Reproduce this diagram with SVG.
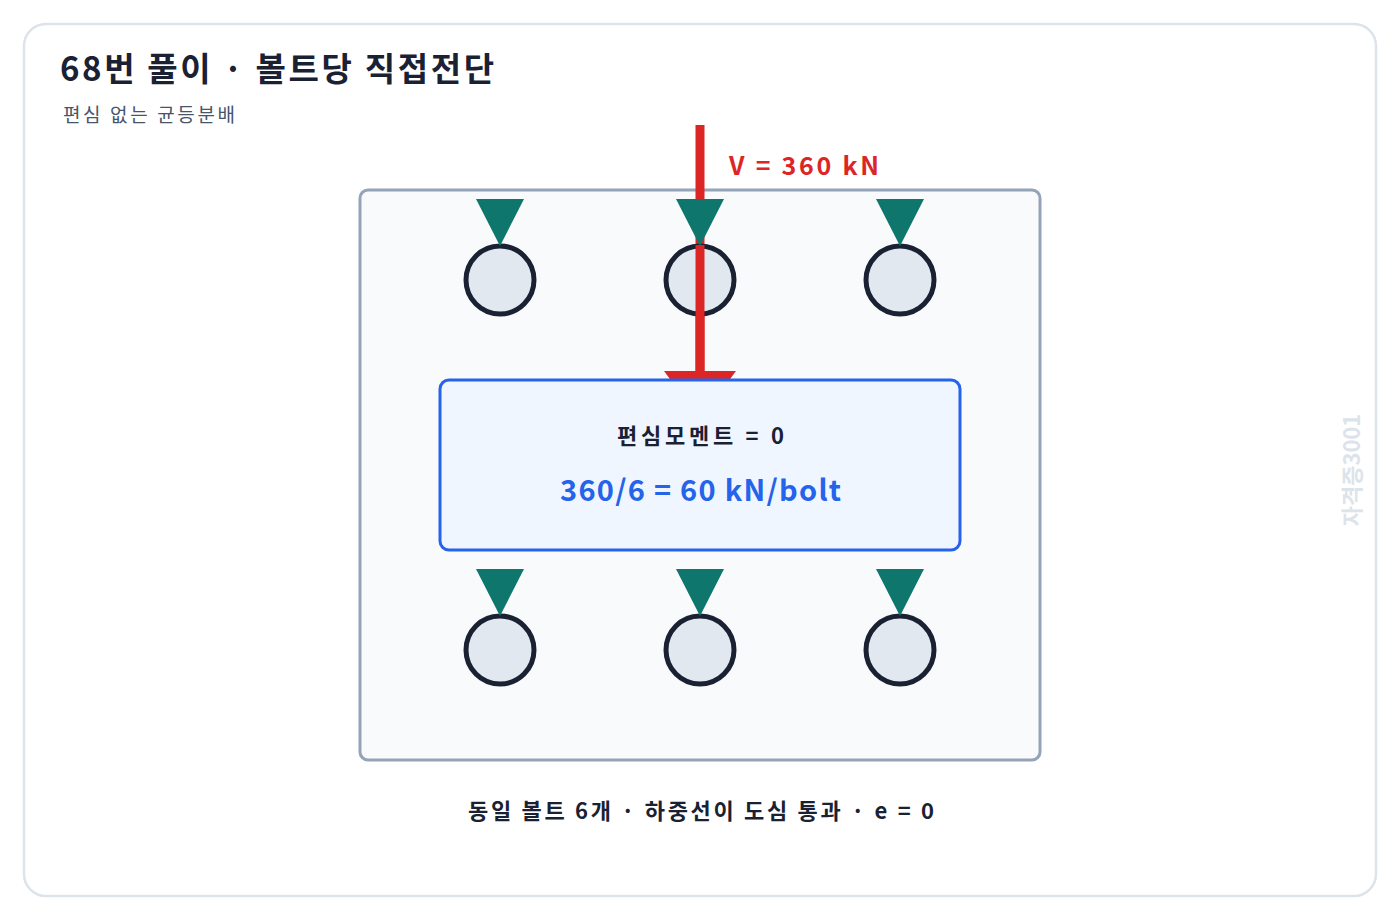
<svg xmlns="http://www.w3.org/2000/svg" width="1400" height="920" viewBox="0 0 1400 920">
<style>
text{font-family:"Noto Sans CJK KR","Noto Sans",sans-serif}
.bolt{fill:#e2e8f0;stroke:#1a2133;stroke-width:5}
.tri{fill:#0f766e}
</style>
<rect x="0" y="0" width="1400" height="920" fill="#fff"/>
<rect x="24" y="24" width="1352" height="872" rx="22" fill="#fff" stroke="#dde3ea" stroke-width="2.5"/>
<text x="60" y="81" font-size="33" font-weight="700" fill="#1a2133" textLength="434" lengthAdjust="spacing">68번 풀이 · 볼트당 직접전단</text>
<text x="63" y="122" font-size="19" fill="#475569" textLength="172" lengthAdjust="spacing">편심 없는 균등분배</text>
<text transform="translate(1360,470) rotate(-90)" text-anchor="middle" font-size="22" font-weight="700" fill="#dde3ea">자격증3001</text>
<g id="plate"><rect x="360" y="190" width="680" height="570" rx="8" fill="#f8fafc" stroke="#94a3b8" stroke-width="3"/></g>
<g id="connectors">
<line x1="700" y1="125" x2="700" y2="372" stroke="#dc2626" stroke-width="9"/>
<polygon points="664,371 736,371 700,420" fill="#dc2626"/>
<text x="729" y="175" font-size="25" font-weight="700" fill="#dc2626" textLength="150" lengthAdjust="spacing">V = 360 kN</text>
</g>
<g id="bolts">
<circle class="bolt" cx="500" cy="280" r="34"/><circle class="bolt" cx="700" cy="280" r="34"/><circle class="bolt" cx="900" cy="280" r="34"/>
<circle class="bolt" cx="500" cy="650" r="34"/><circle class="bolt" cx="700" cy="650" r="34"/><circle class="bolt" cx="900" cy="650" r="34"/>
<line x1="700" y1="245" x2="700" y2="372" stroke="#dc2626" stroke-width="9"/>
<polygon class="tri" points="476,199 524,199 500,246"/><polygon class="tri" points="676,199 724,199 700,246"/><polygon class="tri" points="876,199 924,199 900,246"/>
<polygon class="tri" points="476,569 524,569 500,616"/><polygon class="tri" points="676,569 724,569 700,616"/><polygon class="tri" points="876,569 924,569 900,616"/>
</g>
<g id="result">
<rect x="440" y="380" width="520" height="170" rx="9" fill="#eff6ff" stroke="#2563eb" stroke-width="3"/>
<text x="617" y="444" font-size="22" font-weight="700" fill="#1a2133" textLength="167" lengthAdjust="spacing">편심모멘트 = 0</text>
<text x="560" y="501" font-size="29" font-weight="700" fill="#2563eb" textLength="281" lengthAdjust="spacing">360/6 = 60 kN/bolt</text>
</g>
<text x="468" y="819" font-size="22" font-weight="700" fill="#1a2133" textLength="466" lengthAdjust="spacing">동일 볼트 6개 · 하중선이 도심 통과 · e = 0</text>
</svg>
